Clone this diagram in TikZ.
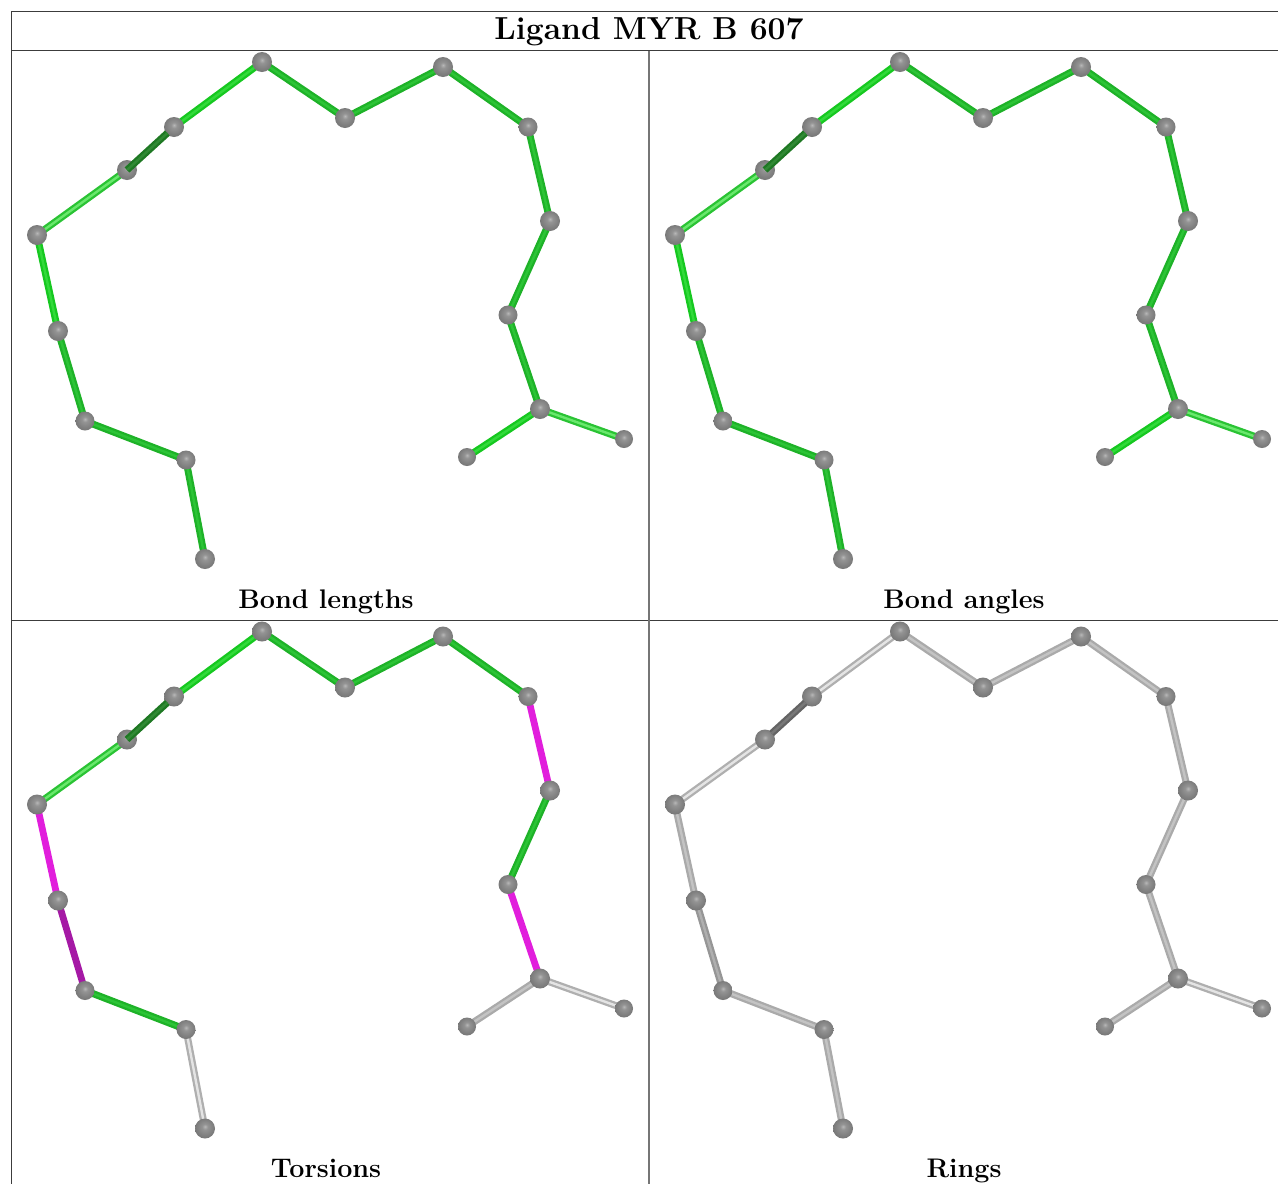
\documentclass[tikz,border=0pt]{standalone}
\usetikzlibrary{backgrounds}
\definecolor{bgreen}{RGB}{22,200,32}
\definecolor{bgreenl}{RGB}{50,218,58}
\definecolor{lgreen}{RGB}{42,195,52}
\definecolor{lgreenl}{RGB}{105,232,108}
\definecolor{dgreen}{RGB}{30,120,35}
\definecolor{dgreenl}{RGB}{48,138,52}
\definecolor{mgreen}{RGB}{30,178,40}
\definecolor{mgreenl}{RGB}{44,196,54}
\definecolor{bmag}{RGB}{225,30,220}
\definecolor{dmag}{RGB}{165,25,165}
\definecolor{bgray}{RGB}{170,170,170}
\definecolor{bgrayl}{RGB}{195,195,195}
\definecolor{lgray}{RGB}{175,175,175}
\definecolor{lgrayl}{RGB}{228,228,228}
\definecolor{dgray}{RGB}{100,100,100}
\definecolor{dgrayl}{RGB}{120,120,120}
\definecolor{mgray}{RGB}{150,150,150}
\definecolor{mgrayl}{RGB}{175,175,175}
\definecolor{rulec}{RGB}{60,60,60}
\pgfdeclareradialshading{atomshade}{\pgfpoint{0bp}{5bp}}{%
 rgb(0bp)=(0.72,0.72,0.72);rgb(7bp)=(0.58,0.58,0.58);rgb(20bp)=(0.50,0.50,0.50);rgb(30bp)=(0.45,0.45,0.45);rgb(38bp)=(0.40,0.40,0.40);rgb(50bp)=(0.34,0.34,0.34)}
\tikzset{
 x=1pt,y=-1pt,
 atom/.style={circle,inner sep=0pt,minimum size=#1,shading=atomshade},
 gbond/.style={draw=#1,line width=2.3pt,double=#1l,double distance=2.4pt},
 mbond/.style={draw=#1,line width=6.8pt},
 capt/.style={anchor=base,font=\bfseries\fontsize{26.9}{30}\selectfont},
 ttlstyle/.style={anchor=base,font=\bfseries\fontsize{31.8}{36}\selectfont},
 rule/.style={draw=rulec,line width=1pt},
 vrule/.style={draw=rulec!70,line width=1.6pt},
 ba/.style={gbond=mgreen},bb/.style={gbond=mgreen},bc/.style={gbond=mgreen},
 bd/.style={gbond=bgreen},be/.style={gbond=lgreen},
 bg/.style={gbond=dgreen,shorten >=9pt},bh/.style={gbond=bgreen},bi/.style={gbond=mgreen},
 bj/.style={gbond=mgreen},bk/.style={gbond=mgreen},bl/.style={gbond=mgreen},
 bm/.style={gbond=mgreen},bn/.style={gbond=mgreen},bo/.style={gbond=bgreen},
 bp/.style={gbond=lgreen},
}
\newcommand{\molecule}[1]{%
 \node[atom=20pt] (#1a1) at (205,559) {};
 \node[atom=19pt] (#1a2) at (186,460) {};
 \node[atom=19pt] (#1a3) at (85,421) {};
 \node[atom=20pt] (#1a4) at (58,331) {};
 \node[atom=20pt] (#1a5) at (37,235) {};
 \node[atom=20pt] (#1a6) at (127,170) {};
 \node[atom=20pt] (#1a7) at (174,127) {};
 \node[atom=20pt] (#1a8) at (262,62) {};
 \node[atom=20pt] (#1a9) at (345,118) {};
 \node[atom=20pt] (#1a10) at (443,67) {};
 \node[atom=19pt] (#1a11) at (528,127) {};
 \node[atom=20pt] (#1a12) at (550,221) {};
 \node[atom=19pt] (#1a13) at (508,315) {};
 \node[atom=20pt] (#1a14) at (540,409) {};
 \node[atom=18pt] (#1a15) at (467,457) {};
 \node[atom=18pt] (#1a16) at (624,439) {};
 \draw[bg] (#1a6.center)--(#1a7.center);
 \begin{scope}[on background layer]
 \draw[ba] (#1a1.center)--(#1a2.center);
 \draw[bb] (#1a2.center)--(#1a3.center);
 \draw[bc] (#1a3.center)--(#1a4.center);
 \draw[bd] (#1a4.center)--(#1a5.center);
 \draw[be] (#1a5.center)--(#1a6.center);
 \draw[bh] (#1a7.center)--(#1a8.center);
 \draw[bi] (#1a8.center)--(#1a9.center);
 \draw[bj] (#1a9.center)--(#1a10.center);
 \draw[bk] (#1a10.center)--(#1a11.center);
 \draw[bl] (#1a11.center)--(#1a12.center);
 \draw[bm] (#1a12.center)--(#1a13.center);
 \draw[bn] (#1a13.center)--(#1a14.center);
 \draw[bo] (#1a14.center)--(#1a15.center);
 \draw[bp] (#1a14.center)--(#1a16.center);
 \end{scope}
}
\begin{document}
\begin{tikzpicture}
\useasboundingbox (0,0) rectangle (1278,1184);
\begin{scope}[on background layer]
\fill[white] (0,0) rectangle (1278,1184);
\end{scope}
\coordinate (tl) at (11.5,11.5); \coordinate (tr) at (1278,11.5);
\coordinate (hl) at (11.5,50.7); \coordinate (hr) at (1278,50.7);
\coordinate (ml) at (11.5,620.5); \coordinate (mr) at (1278,620.5);
\coordinate (el) at (11.5,1184); \coordinate (vt) at (649,50.7); \coordinate (vb) at (649,1184);
\draw[rule] (el)--(tl)--(tr);
\draw[rule] (hl)--(hr);
\draw[rule] (ml)--(mr);
\draw[vrule] (vt)--(vb);
\node[ttlstyle] (ttl) at (649,39.5) {Ligand MYR B 607};
\node[capt] (c1) at (326,608) {Bond lengths};
\node[capt] (c2) at (964,608) {Bond angles};
\node[capt] (c3) at (326,1177.5) {Torsions};
\node[capt] (c4) at (964,1177.5) {Rings};
\begin{scope}
 \molecule{p}
\end{scope}
\begin{scope}[xshift=638pt]
 \molecule{q}
\end{scope}
\begin{scope}[yshift=-569.5pt,
 ba/.style={gbond=lgray},bd/.style={mbond=bmag},bc/.style={mbond=dmag},
 bl/.style={mbond=bmag},bn/.style={mbond=bmag},
 bo/.style={gbond=bgray},bp/.style={gbond=lgray}]
 \molecule{r}
\end{scope}
\begin{scope}[xshift=638pt,yshift=-569.5pt,
 ba/.style={gbond=bgray},bb/.style={gbond=bgray},bc/.style={gbond=mgray},bd/.style={gbond=bgray},
 be/.style={gbond=lgray},bg/.style={gbond=dgray,shorten <=9pt,shorten >=9pt},bh/.style={gbond=lgray},
 bi/.style={gbond=bgray},bj/.style={gbond=bgray},bk/.style={gbond=bgray},bl/.style={gbond=bgray},
 bm/.style={gbond=bgray},bn/.style={gbond=bgray},bo/.style={gbond=bgray},bp/.style={gbond=lgray}]
 \molecule{s}
\end{scope}
\end{tikzpicture}
\end{document}
